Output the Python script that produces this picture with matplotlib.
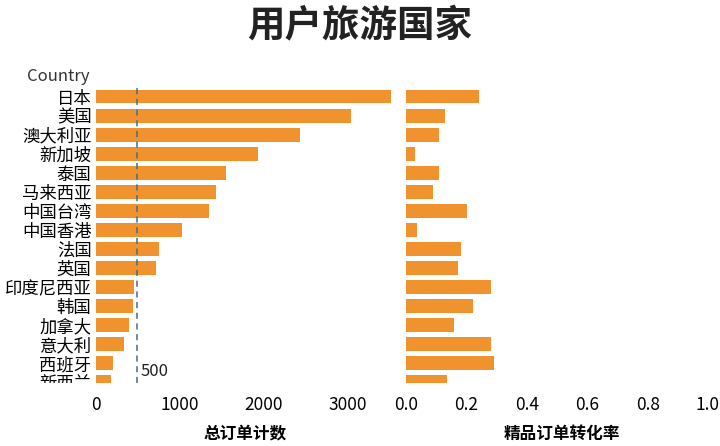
import matplotlib
matplotlib.use("Agg")
import matplotlib.pyplot as plt
from matplotlib.patches import Rectangle

plt.rcParams['font.family'] = ['Noto Sans CJK SC', 'DejaVu Sans']

countries = ["日本", "美国", "澳大利亚", "新加坡", "泰国", "马来西亚", "中国台湾", "中国香港",
             "法国", "英国", "印度尼西亚", "韩国", "加拿大", "意大利", "西班牙", "新西兰"]
total_orders = [3510, 3035, 2425, 1930, 1550, 1425, 1345, 1025, 750, 715, 450, 440, 390, 335, 210, 180]
conv_rate = [0.24, 0.13, 0.11, 0.03, 0.11, 0.09, 0.20, 0.035, 0.18, 0.17, 0.28, 0.22, 0.16, 0.28, 0.29, 0.135]
ref_value = 490
ref_label = "500"
left_ticks = [0, 1000, 2000, 3000]
right_ticks = [0.0, 0.2, 0.4, 0.6, 0.8, 1.0]

color = "#F0922E"
fig = plt.figure(figsize=(7.2, 4.46), dpi=100)
bottom, top = 0.141, 0.81
ax1 = fig.add_axes([0.133, bottom, 0.416, top - bottom])
ax2 = fig.add_axes([0.56, bottom, 0.44, top - bottom])

ys = list(range(len(countries)))
ylim = (15.0 + 0.05, -0.62)
for ax, vals in ((ax1, total_orders), (ax2, conv_rate)):
    ax.barh(ys, vals, height=0.73, color=color)
    ax.set_ylim(*ylim)
    for s in ax.spines.values():
        s.set_visible(False)
    ax.tick_params(length=0, labelsize=12.5, pad=9)

ax1.set_xlim(0, 3560)
ax1.set_xticks(left_ticks)
ax1.set_yticks(ys)
ax1.set_yticklabels(countries, fontsize=12.5)
ax1.tick_params(axis='y', pad=3)
clip = Rectangle((0, bottom), 1, 1, transform=fig.transFigure)
for lbl in ax1.get_yticklabels():
    lbl.set_clip_path(clip)
ax1.axvline(ref_value, color="#4a6a8a", linestyle=(0, (4, 3)), linewidth=1.1)
ax1.text(ref_value + 40, 14.45, ref_label, fontsize=12, va='center', ha='left', color='#222222')
ax1.text(-0.02, 1.0, "Country", transform=ax1.transAxes, ha='right', va='bottom', fontsize=12, color='#333333')
ax1.set_xlabel("总订单计数", fontsize=12, fontweight='bold', labelpad=8)

ax2.set_xlim(-0.01, 1.04)
ax2.set_xticks(right_ticks)
ax2.set_yticks([])
ax2.set_xlabel("精品订单转化率", fontsize=12, fontweight='bold', labelpad=8)

fig.suptitle("用户旅游国家", fontsize=27, fontweight='bold', y=0.985, color='#222222')
fig.savefig("out.png", dpi=100)
